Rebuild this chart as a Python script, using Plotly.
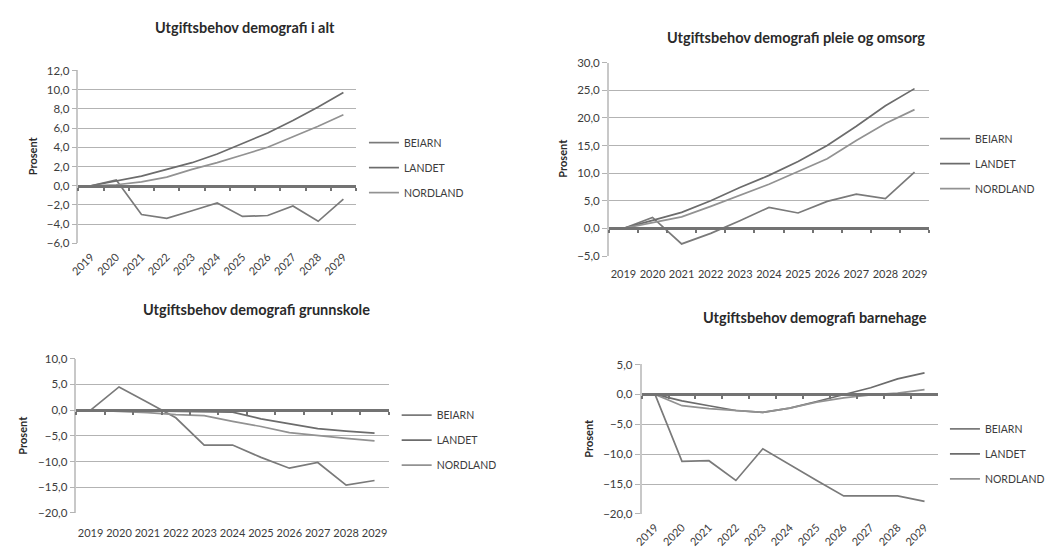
import plotly.graph_objects as go

years = ["2019", "2020", "2021", "2022", "2023", "2024", "2025", "2026", "2027", "2028", "2029"]
series_names = ["BEIARN", "LANDET", "NORDLAND"]

# Utgiftsbehov demografi i alt
alt_beiarn = [0.0, 0.6, -3.0, -3.4, -2.6, -1.8, -3.2, -3.1, -2.1, -3.7, -1.4]
alt_landet = [0.0, 0.5, 1.0, 1.7, 2.4, 3.3, 4.4, 5.5, 6.8, 8.2, 9.7]
alt_nordland = [0.0, 0.1, 0.4, 0.9, 1.7, 2.4, 3.2, 4.0, 5.1, 6.2, 7.4]

# Utgiftsbehov demografi pleie og omsorg
pleie_beiarn = [0.0, 2.0, -2.8, -0.9, 1.4, 3.8, 2.8, 4.9, 6.2, 5.4, 10.2]
pleie_landet = [0.0, 1.5, 2.9, 5.0, 7.4, 9.6, 12.1, 15.0, 18.5, 22.2, 25.3]
pleie_nordland = [0.0, 1.0, 2.1, 4.0, 6.0, 8.0, 10.3, 12.6, 15.9, 19.0, 21.5]

# Utgiftsbehov demografi grunnskole
skole_beiarn = [0.0, 4.5, 1.5, -1.5, -6.8, -6.8, -9.2, -11.3, -10.2, -14.6, -13.7]
skole_landet = [0.0, -0.1, -0.2, -0.3, -0.3, -0.4, -1.7, -2.7, -3.6, -4.1, -4.5]
skole_nordland = [0.0, -0.2, -0.5, -0.9, -1.1, -2.2, -3.2, -4.4, -5.0, -5.5, -6.0]

# Utgiftsbehov demografi barnehage
bhg_beiarn = [0.0, -11.2, -11.1, -14.4, -9.1, -11.8, -14.4, -17.0, -17.0, -17.0, -17.9]
bhg_landet = [0.0, -1.1, -1.9, -2.7, -3.0, -2.3, -1.2, -0.1, 1.1, 2.6, 3.6]
bhg_nordland = [0.0, -1.9, -2.4, -2.7, -3.0, -2.3, -1.3, -0.6, -0.1, 0.2, 0.8]

titles = ["Utgiftsbehov demografi i alt", "Utgiftsbehov demografi pleie og omsorg",
          "Utgiftsbehov demografi grunnskole", "Utgiftsbehov demografi barnehage"]
y_ranges = [(-6, 12, 2), (-5, 30, 5), (-20, 10, 5), (-20, 5, 5)]
panel_data = [
    [alt_beiarn, alt_landet, alt_nordland],
    [pleie_beiarn, pleie_landet, pleie_nordland],
    [skole_beiarn, skole_landet, skole_nordland],
    [bhg_beiarn, bhg_landet, bhg_nordland],
]

W, H = 1055, 558
# plot areas in pixels: x0, x1, ytop, ybottom
boxes = [(70, 350, 65, 242), (605, 928, 57, 255), (68, 383, 360, 518), (638, 937, 366, 519)]
tick_angles = [-45, 0, 0, -45]
label_gap = [2, 8, 10, 2]
title_pos = [(238, 21), (794, 31), (250, 310), (813, 318)]
ylab_pos = [(24, 152), (558, 155), (14, 438), (585, 442)]
legend_pos = [(358, 124), (934, 120), (391, 403), (944, 417)]

line_colors = ["#7a7a7a", "#6c6c6c", "#929292"]
grid_col = "#b3b3b3"
axis_col = "#737373"
FONT = "Lato"

def px(x):
    return x / W

def py(y):
    return 1 - y / H

fig = go.Figure()
layout = dict(
    width=W, height=H, autosize=False,
    margin=dict(l=0, r=0, t=0, b=0),
    paper_bgcolor="white", plot_bgcolor="white",
    separators=", ",
    font=dict(family=FONT, size=11, color="#3c3c3c"),
    annotations=[],
)

for i in range(4):
    n = i + 1
    xa = "x" if n == 1 else f"x{n}"
    ya = "y" if n == 1 else f"y{n}"
    lg = "legend" if n == 1 else f"legend{n}"
    x0, x1, yt, yb = boxes[i]
    ymin, ymax, dt = y_ranges[i]
    for k, vals in enumerate(panel_data[i]):
        fig.add_trace(go.Scatter(
            x=years, y=vals, name=series_names[k], mode="lines",
            line=dict(color=line_colors[k], width=1.7),
            xaxis=xa, yaxis=ya, legend=lg, legendgroup=f"{n}{k}",
        ))
    # dummy trace on overlay axis (zero axis line with tick marks)
    ov = f"x{n + 4}"
    fig.add_trace(go.Scatter(x=years, y=[None] * len(years), mode="lines",
                             xaxis=ov, yaxis=ya, showlegend=False, hoverinfo="skip"))

    dom_y = [py(yb), py(yt)]
    zero_pos = dom_y[0] + (0 - ymin) / (ymax - ymin) * (dom_y[1] - dom_y[0])

    layout[f"xaxis{'' if n == 1 else n}"] = dict(
        domain=[px(x0), px(x1)], anchor=ya,
        type="category", range=[-0.5, len(years) - 0.5],
        showgrid=False, showline=False, zeroline=False,
        ticks="outside", ticklen=label_gap[i], tickcolor="rgba(0,0,0,0)",
        tickangle=tick_angles[i], tickfont=dict(size=11, color="#3c3c3c", family=FONT),
        fixedrange=True,
    )
    layout[f"xaxis{n + 4}"] = dict(
        overlaying=xa, matches=xa, anchor="free", position=zero_pos,
        type="category", range=[-0.5, len(years) - 0.5],
        showgrid=False, showline=True, linecolor=axis_col, linewidth=3,
        ticks="outside", tickson="boundaries", ticklen=3, tickwidth=1.5, tickcolor=axis_col,
        showticklabels=False, zeroline=False,
    )
    layout[f"yaxis{'' if n == 1 else n}"] = dict(
        domain=dom_y, anchor=xa, range=[ymin, ymax], dtick=dt, tick0=0,
        tickformat=".1f", showgrid=True, gridcolor=grid_col, gridwidth=1.4,
        showline=True, linecolor="#c8c8c8", linewidth=1.5,
        ticks="outside", ticklen=5, tickcolor=grid_col,
        zeroline=False, tickfont=dict(size=11.5, color="#3c3c3c", family=FONT),
        fixedrange=True,
    )
    lx, ly = legend_pos[i]
    layout[lg] = dict(
        x=px(lx), y=py(ly), xanchor="left", yanchor="top",
        bgcolor="rgba(0,0,0,0)", tracegroupgap=6, itemwidth=30,
        font=dict(size=10.5, color="#3c3c3c", family=FONT),
    )
    tx, ty = title_pos[i]
    layout["annotations"].append(dict(
        x=px(tx), y=py(ty), xref="paper", yref="paper", showarrow=False,
        text=f"<b>{titles[i]}</b>", font=dict(size=14.5, color="#2a2a2a", family=FONT),
        xanchor="center", yanchor="middle",
    ))
    lxp, lyp = ylab_pos[i]
    layout["annotations"].append(dict(
        x=px(lxp), y=py(lyp), xref="paper", yref="paper", showarrow=False,
        text="<b>Prosent</b>", textangle=-90, font=dict(size=11, color="#2a2a2a", family=FONT),
        xanchor="center", yanchor="middle",
    ))

fig.update_layout(**layout)
fig.write_html("out.html", config={"displayModeBar": False},
               post_script="document.body.style.margin='0px';")
